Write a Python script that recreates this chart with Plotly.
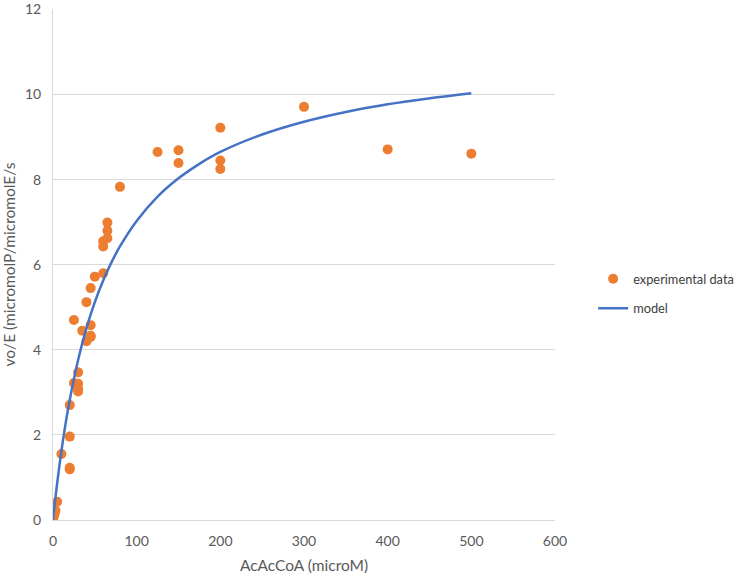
import plotly.graph_objects as go

# experimental data
exp_x = [0, 1, 2, 3, 5, 10, 20, 20, 20, 20, 25, 25, 30, 30, 30, 30, 35, 40, 40,
         45, 45, 45, 45, 50, 60, 60, 60, 65, 65, 65, 80, 125, 150, 150,
         200, 200, 200, 300, 400, 500]
exp_y = [0.0, 0.08, 0.15, 0.22, 0.43, 1.55, 1.19, 1.23, 1.96, 2.7, 3.22, 4.7,
         3.02, 3.08, 3.2, 3.47, 4.45, 4.2, 5.12, 4.3, 4.33, 4.58, 5.45, 5.72,
         5.8, 6.43, 6.55, 6.62, 6.8, 6.99, 7.83, 8.65, 8.69, 8.39,
         9.22, 8.45, 8.25, 9.71, 8.71, 8.61]

# model curve
model_x = [0, 2, 5, 10, 15, 20, 30, 40, 50, 60, 70, 80, 100, 125, 150, 175, 200,
           250, 300, 350, 400, 450, 500]
model_y = [0.0, 0.37, 0.87, 1.61, 2.26, 2.82, 3.76, 4.51, 5.12, 5.63, 6.06, 6.43,
           7.03, 7.60, 8.03, 8.37, 8.65, 9.06, 9.36, 9.59, 9.77, 9.91, 10.03]

x_ticks = [0, 100, 200, 300, 400, 500, 600]
y_ticks = [0, 2, 4, 6, 8, 10, 12]

font_family = "Lato, 'Open Sans', sans-serif"
grey = "#595959"

fig = go.Figure()
fig.add_trace(go.Scatter(
    x=exp_x, y=exp_y, mode="markers", name="experimental data", legendgroup="a",
    marker=dict(color="#ED7D31", size=10, line=dict(width=0)),
))
fig.add_trace(go.Scatter(
    x=model_x, y=model_y, mode="lines", name="model", legendgroup="b",
    line=dict(color="#4472C4", width=2.5, shape="spline"),
))

fig.update_layout(
    width=750, height=576,
    margin=dict(l=53, r=195, t=9, b=56, autoexpand=False),
    plot_bgcolor="white", paper_bgcolor="white",
    font=dict(family=font_family, size=14, color=grey),
    showlegend=True,
    legend=dict(x=1.076, y=0.4425, xanchor="left", yanchor="middle",
                font=dict(size=12.8, color="#404040"), traceorder="grouped",
                bgcolor="rgba(0,0,0,0)", tracegroupgap=10),
    xaxis=dict(
        range=[0, 600], tickvals=x_ticks, ticktext=[str(v) for v in x_ticks],
        showgrid=False, zeroline=False, showline=True, automargin=False,
        linecolor="#d9d9d9", linewidth=1, ticks="", ticklabeloverflow="allow",
        ticklabelstandoff=8,
        title=dict(text="AcAcCoA (microM)", font=dict(size=15.5, color=grey), standoff=12),
    ),
    yaxis=dict(
        range=[0, 12.01], tickvals=y_ticks, ticktext=[str(v) for v in y_ticks],
        showgrid=True, gridcolor="#d9d9d9", gridwidth=1, automargin=False,
        zeroline=False, showline=True, linecolor="#d9d9d9", linewidth=1, ticks="",
        ticklabeloverflow="allow", ticklabelstandoff=8,
        title=dict(text="vo/E (micromolP/micromolE/s", font=dict(size=15.5, color=grey), standoff=10),
    ),
)

fig.write_html("out.html", config={"displayModeBar": False},
               post_script="document.body.style.margin='0';")
